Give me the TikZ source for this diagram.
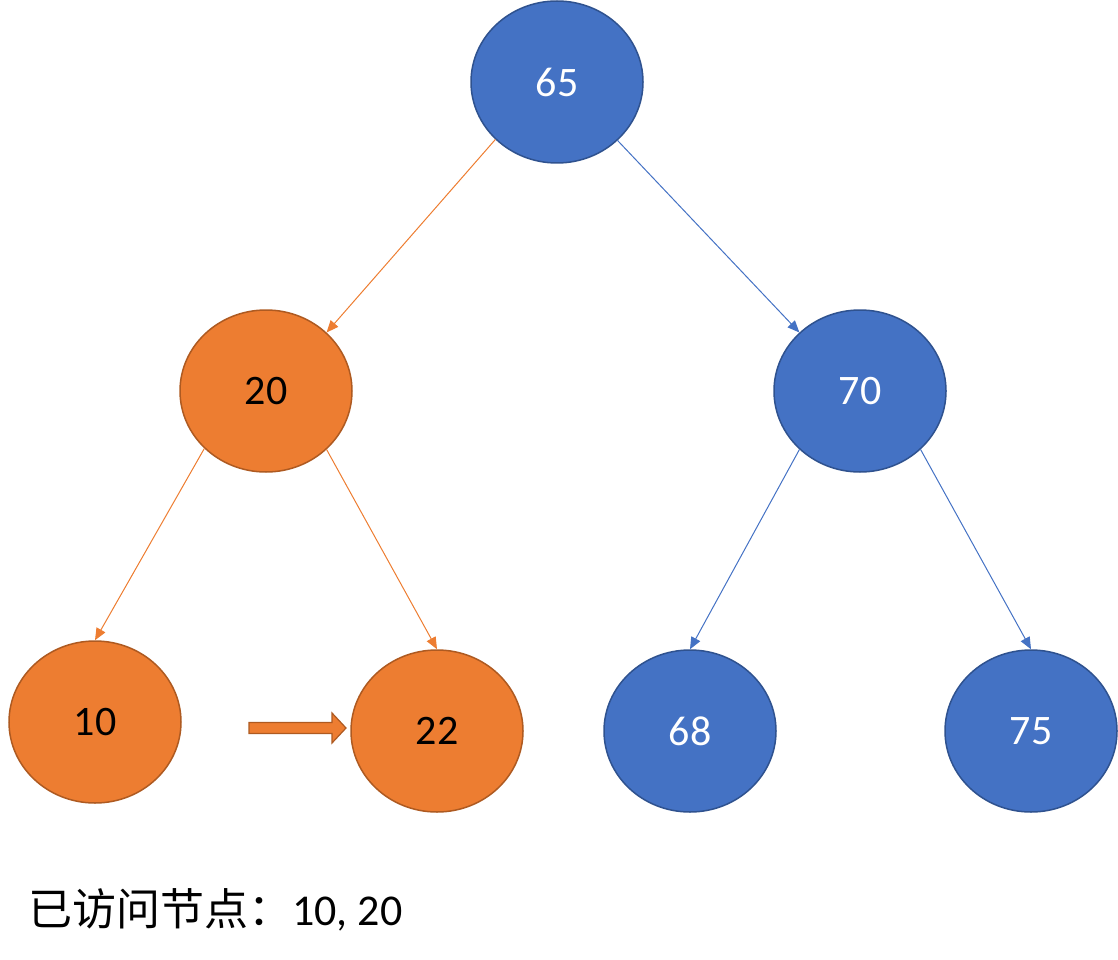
\documentclass[tikz,border=0pt]{standalone}
\usepackage{fontspec}
\setmainfont{Carlito}
\newfontfamily\cjk{Noto Sans CJK SC}
\usetikzlibrary{shapes.geometric,arrows.meta}
\definecolor{bfill}{HTML}{4472C4}
\definecolor{bline}{HTML}{2F528F}
\definecolor{ofill}{HTML}{ED7D31}
\definecolor{oline}{HTML}{AE5A21}
\tikzset{
  bnode/.style={ellipse,fill=bfill,draw=bline,line width=1.5pt,minimum width=172pt,minimum height=162pt,inner sep=0pt,text=white,font=\fontsize{42}{44}\selectfont},
  onode/.style={ellipse,fill=ofill,draw=oline,line width=1.5pt,minimum width=172pt,minimum height=162pt,inner sep=0pt,text=black,font=\fontsize{42}{44}\selectfont},
  bedge/.style={draw=bfill,line width=1pt,-{Triangle[length=12pt,width=10pt]}},
  oedge/.style={draw=ofill,line width=1pt,-{Triangle[length=12pt,width=10pt]}},
  blockarrow/.style={fill=ofill,draw=oline,line width=1.2pt,line join=miter}
}
\begin{document}
\begin{tikzpicture}[x=1pt,y=-1pt]
\useasboundingbox (0,0) rectangle (1118,960);
\node[bnode] (n65) at (557,82) {65};
\node[onode] (n20) at (266,391) {20};
\node[bnode] (n70) at (860,391) {70};
\node[onode] (n10) at (95,722) {10};
\node[onode] (n22) at (437,731) {22};
\node[bnode] (n68) at (690,731) {68};
\node[bnode] (n75) at (1031,731) {75};
\draw[oedge] (n65.223) -- (n20.44);
\draw[bedge] (n65.316) -- (n70.136);
\draw[oedge] (n20.223) -- (n10.north);
\draw[oedge] (n20.316) -- (n22.north);
\draw[bedge] (n70.224) -- (n68.north);
\draw[bedge] (n70.316) -- (n75.north);
\coordinate (tip) at (346,728);
\draw[blockarrow] (249,722.5) -- (332,722.5) -- (332,713) -- (tip) -- (332,743) -- (332,733.5) -- (249,733.5) -- cycle;
\node[anchor=west,inner sep=0pt,font=\fontsize{44}{46}\selectfont] (visited) at (28,910) {{\cjk 已访问节点：}10, 20};
\end{tikzpicture}
\end{document}
